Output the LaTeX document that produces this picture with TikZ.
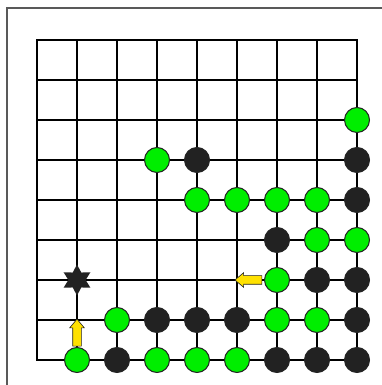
\documentclass[tikz,border=0pt]{standalone}
\usepackage{tikz}
\usetikzlibrary{shapes.geometric,shapes.arrows}

\definecolor{stonegreen}{RGB}{0,238,0}
\definecolor{stoneblack}{RGB}{34,34,34}
\definecolor{markyellow}{RGB}{255,225,0}

\begin{document}
\begin{tikzpicture}[x=40pt,y=40pt]
        \tikzstyle{green stone}=[circle,draw=stoneblack,line width=1pt,fill=stonegreen,minimum size=25pt,inner sep=0pt]
        \tikzstyle{black stone}=[circle,draw=stoneblack,line width=1pt,fill=stoneblack,minimum size=25pt,inner sep=0pt]
        \tikzstyle{move arrow}=[single arrow,draw=stoneblack,line width=0.6pt,fill=markyellow,inner sep=4pt,single arrow head extend=3pt,single arrow tip angle=80,minimum height=27pt]
  \useasboundingbox (-0.925,-0.625) rectangle (8.625,9);
  % frame
  \draw[gray!70!black,line width=1.5pt] (-0.75,-0.7) -- (-0.75,8.8) -- (8.7,8.8);
  % board
  \foreach \k in {0,...,8} {
    \draw[line width=2pt] (\k,0) -- (\k,8);
    \draw[line width=2pt] (0,\k) -- (8,\k);
  }
  \draw[line width=2pt] (0,0) rectangle (8,8);
  % stones
  \foreach \i/\j in {1/0,3/0,4/0,5/0,2/1,6/1,7/1,6/2,7/3,8/3,4/4,5/4,6/4,7/4,3/5,8/6}
    \node[green stone] (g\i\j) at (\i,\j) {};
  \foreach \i/\j in {2/0,6/0,7/0,8/0,3/1,4/1,5/1,8/1,7/2,8/2,6/3,8/4,4/5,8/5}
    \node[black stone] (b\i\j) at (\i,\j) {};
  \node[star,star points=6,star point ratio=1.8,fill=stoneblack,minimum size=31pt,inner sep=0pt] (target) at (1,2) {};
  % moves
  \node[move arrow,shape border rotate=90] (up) at (1,0.62) {};
  \node[move arrow,shape border rotate=180] (left) at (5.35,2) {};

\end{tikzpicture}
\end{document}
